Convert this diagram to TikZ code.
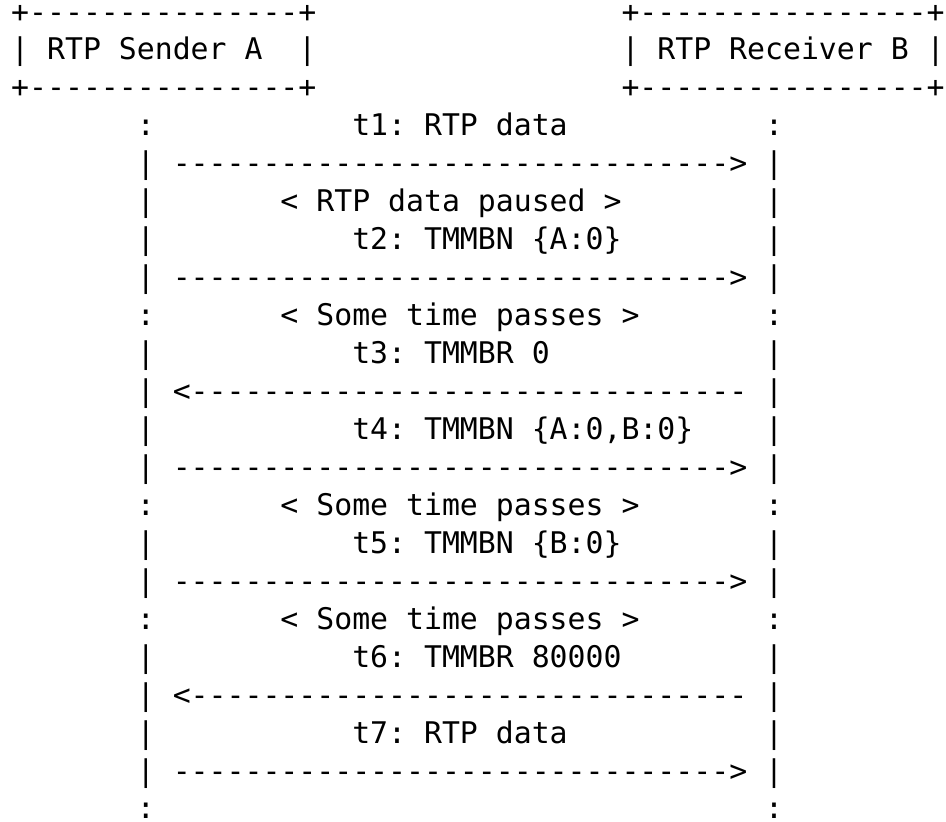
\documentclass[tikz,border=0pt]{standalone}
\usepackage{fontspec}
\setmonofont{DejaVu Sans Mono}

\tikzset{
    asc/.style={font=\ttfamily\fontsize{29.82}{38}\selectfont, inner sep=0pt, anchor=base west}
}

\begin{document}
\begin{tikzpicture}[x=17.95pt, y=-37.95pt]
    \fill[white] (0pt, 0pt) rectangle (946pt, -822pt); % page frame

    \begin{scope}[shift={(11pt, -22pt)}]
    % the two boxes
    \node[asc] (senderTop) at (0, 0) {+---------------+};
    \node[asc] (senderLabel) at (0, 1) {|~RTP~Sender~A~~|};
    \node[asc] (senderBottom) at (0, 2) {+---------------+};
    \node[asc] (receiverTop) at (34, 0) {+----------------+};
    \node[asc] (receiverLabel) at (34, 1) {|~RTP~Receiver~B~|};
    \node[asc] (receiverBottom) at (34, 2) {+----------------+};

    % life lines
    \foreach \r/\s in {3/:, 4/|, 5/|, 6/|, 7/|, 8/:, 9/|, 10/|, 11/|, 12/|, 13/:,
                       14/|, 15/|, 16/:, 17/|, 18/|, 19/|, 20/|, 21/:} {
        \node[asc] (lifeA\r) at (7, \r) {\s}; % sender side
        \node[asc] (lifeB\r) at (42, \r) {\s}; % receiver side
    }

    % messages
    \foreach \r in {4, 7, 12, 15, 20} {
        \node[asc] (toB\r) at (9, \r) {------------------------------->};
    }
    \foreach \r in {10, 18} {
        \node[asc] (toA\r) at (9, \r) {<-------------------------------};
    }

    \node[asc] (msg1) at (19, 3) {t1: RTP data};
    \node[asc] (pause) at (15, 5) {< RTP data paused >};
    \node[asc] (msg2) at (19, 6) {t2: TMMBN \{A:0\}};
    \node[asc] (wait1) at (15, 8) {< Some time passes >};
    \node[asc] (msg3) at (19, 9) {t3: TMMBR 0};
    \node[asc] (msg4) at (19, 11) {t4: TMMBN \{A:0,B:0\}};
    \node[asc] (wait2) at (15, 13) {< Some time passes >};
    \node[asc] (msg5) at (19, 14) {t5: TMMBN \{B:0\}};
    \node[asc] (wait3) at (15, 16) {< Some time passes >};
    \node[asc] (msg6) at (19, 17) {t6: TMMBR 80000};
    \node[asc] (msg7) at (19, 19) {t7: RTP data};
    \end{scope}

\end{tikzpicture}
\end{document}
